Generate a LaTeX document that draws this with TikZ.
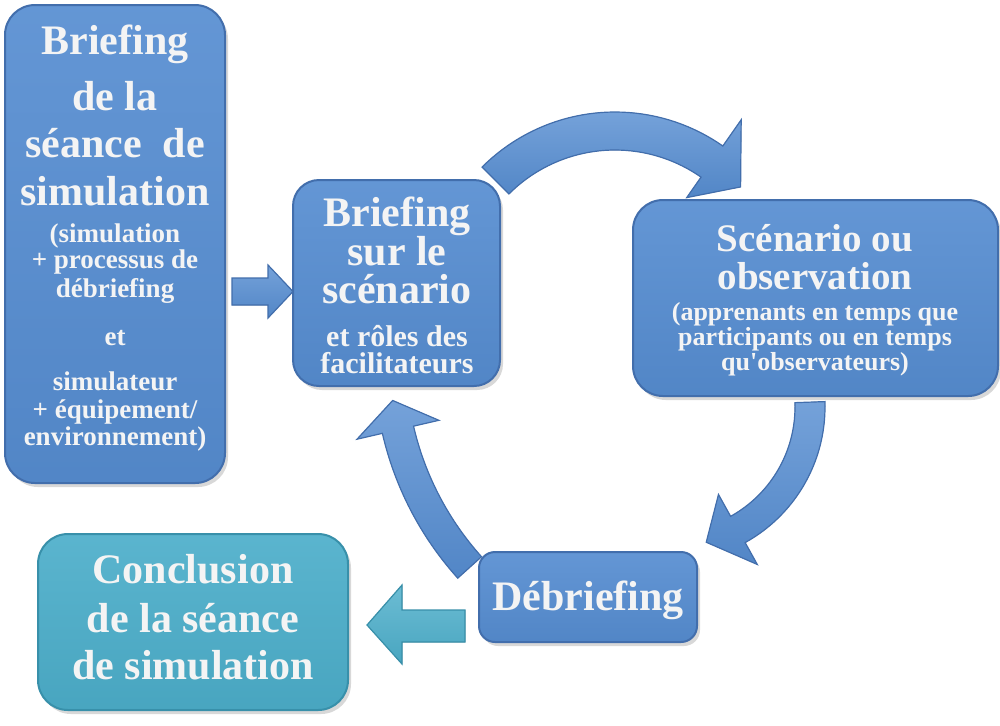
\documentclass[tikz,border=0pt]{standalone}
\usepackage{fontspec}
\setmainfont{Liberation Serif}
\newfontfamily\straightq{Liberation Serif}
\usetikzlibrary{shadows}

\definecolor{boxblue}{RGB}{86,141,209}
\definecolor{boxedge}{RGB}{66,110,172}
\definecolor{boxcyan}{RGB}{76,174,202}
\definecolor{cyanedge}{RGB}{56,144,170}
\definecolor{txtwhite}{RGB}{244,244,244}

\tikzset{
  bluebox/.style={rectangle, rounded corners=15pt, draw=boxedge, line width=1pt,
    top color=boxblue!92!white, bottom color=boxblue!95!black,
    drop shadow={shadow xshift=1.5pt, shadow yshift=-2pt, opacity=0.3}},
  cyanbox/.style={bluebox, draw=cyanedge,
    top color=boxcyan!92!white, bottom color=boxcyan!95!black},
  arrowblk/.style={draw=boxedge, line width=0.6pt,
    top color=boxblue!82!white, bottom color=boxblue!95!black},
  cyanarrow/.style={arrowblk, draw=cyanedge,
    top color=boxcyan!82!white, bottom color=boxcyan!95!black},
  bigtxt/.style={font=\fontsize{21}{24}\selectfont\bfseries, text=txtwhite, anchor=base, inner sep=0pt},
  lsmall/.style={bigtxt, font=\fontsize{13.5}{16}\selectfont\bfseries},
  bsmall/.style={bigtxt, font=\fontsize{15}{18}\selectfont\bfseries},
  sbig/.style={bigtxt, font=\fontsize{19.5}{22}\selectfont\bfseries},
  ssmall/.style={bigtxt, font=\fontsize{13}{15}\selectfont\bfseries}
}

% fleche courbe : cx, cy, r int, r ext, angle depart, angle base pointe, pointe int, pointe ext, angle pointe
\newcommand{\cyclearrow}[9]{%
  \filldraw[arrowblk] plot[domain=#5:#6,samples=40] ({#1+#4*cos(\x)},{#2+#4*sin(\x)})
    -- ({#1+#8*cos(#6)},{#2+#8*sin(#6)})
    -- ({#1+(#3+#4)/2*cos(#9)},{#2+(#3+#4)/2*sin(#9)})
    -- ({#1+#7*cos(#6)},{#2+#7*sin(#6)})
    -- plot[domain=#6:#5,samples=40] ({#1+#3*cos(\x)},{#2+#3*sin(\x)}) -- cycle;}

\begin{document}
\begin{tikzpicture}[x=0.5pt,y=-0.5pt]
  \fill[white] (0,0) rectangle (1000,725);
  \useasboundingbox (0,0) rectangle (1000,725);

  % fleches du cycle
  \cyclearrow{615}{300}{150}{188}{-135}{-55}{125}{220}{-42}
  \cyclearrow{670}{407}{125}{155}{-2}{61}{100}{180}{75}
  \cyclearrow{700}{360}{294}{326}{138}{167}{268}{352}{172.5}

  % fleche vers le briefing sur le scenario
  \coordinate (a1) at (232,278);
  \coordinate (a2) at (268,278);
  \coordinate (a3) at (268,265);
  \coordinate (a4) at (293,291.5);
  \coordinate (a5) at (268,318);
  \coordinate (a6) at (268,305);
  \coordinate (a7) at (232,305);
  \filldraw[arrowblk] (a1)--(a2)--(a3)--(a4)--(a5)--(a6)--(a7)--cycle;

  % fleche vers la conclusion
  \coordinate (b1) at (465,610);
  \coordinate (b2) at (402,610);
  \coordinate (b3) at (402,585);
  \coordinate (b4) at (367,625);
  \coordinate (b5) at (402,664);
  \coordinate (b6) at (402,642);
  \coordinate (b7) at (465,642);
  \filldraw[cyanarrow] (b1)--(b2)--(b3)--(b4)--(b5)--(b6)--(b7)--cycle;

  % les cadres
  \node[bluebox, minimum width=110pt, minimum height=239pt] (lbox) at (115,244) {};
  \node[bluebox, rounded corners=13pt, minimum width=103.5pt, minimum height=103pt] (bsur) at (396.5,283) {};
  \node[bluebox, minimum width=182.5pt, minimum height=98pt] (scen) at (815.5,298) {};
  \node[bluebox, rounded corners=8pt, minimum width=109pt, minimum height=45pt] (debr) at (588,597) {};
  \node[cyanbox, minimum width=155pt, minimum height=88pt] (concl) at (193,622) {};

  % texte du briefing de la seance
  \node[bigtxt] (lb1) at (115,54) {Briefing};
  \node[bigtxt] (lb2) at (115,110) {de la};
  \node[bigtxt] (lb3) at (115,157) {séance\ \ de};
  \node[bigtxt] (lb4) at (115,205) {simulation};
  \node[lsmall] (lb5) at (115,242) {(simulation};
  \node[lsmall] (lb6) at (115,268) {+ processus de};
  \node[lsmall] (lb7) at (115,297) {débriefing};
  \node[lsmall] (lb8) at (115,345) {et};
  \node[lsmall] (lb9) at (115,390) {simulateur};
  \node[lsmall] (lb10) at (115,418) {+ équipement/};
  \node[lsmall] (lb11) at (115,445) {environnement)};

  % texte du briefing sur le scenario
  \node[bigtxt] (bs1) at (397,226) {Briefing};
  \node[bigtxt] (bs2) at (397,265) {sur le};
  \node[bigtxt] (bs3) at (397,303) {scénario};
  \node[bsmall] (bs4) at (397,346) {et rôles des};
  \node[bsmall] (bs5) at (397,373) {facilitateurs};

  % texte du scenario
  \node[sbig] (sc1) at (815,251) {Scénario ou};
  \node[sbig] (sc2) at (815,289) {observation};
  \node[ssmall] (sc3) at (815,320) {(apprenants en temps que};
  \node[ssmall] (sc4) at (815,345) {participants ou en temps};
  \node[ssmall] (sc5) at (815,370) {qu{\straightq\bfseries '}observateurs)};

  % debriefing et conclusion
  \node[bigtxt] (db1) at (588,610) {Débriefing};
  \node[bigtxt] (cc1) at (193,583) {Conclusion};
  \node[bigtxt] (cc2) at (193,632) {de la séance};
  \node[bigtxt] (cc3) at (193,679) {de simulation};
\end{tikzpicture}
\end{document}
